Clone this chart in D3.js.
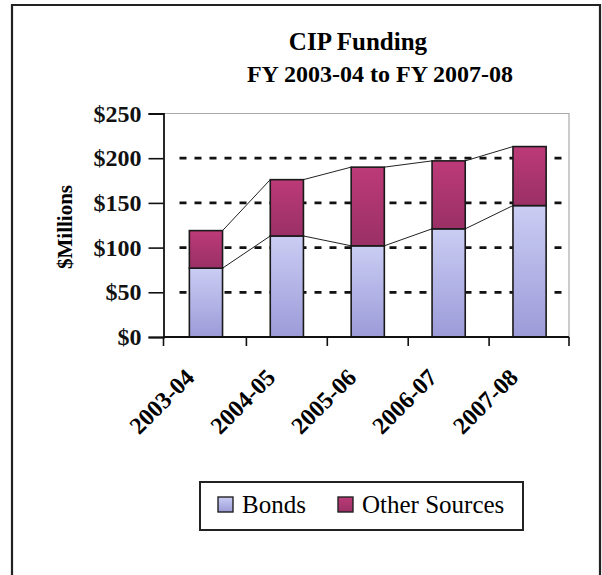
<!DOCTYPE html>
<html>
<head>
<meta charset="utf-8">
<script src="https://cdn.jsdelivr.net/npm/d3@7"></script>
<style>
  body { margin: 0; background: #fff; }
  svg { display: block; font-family: "Liberation Serif", "Times New Roman", serif; }
</style>
</head>
<body>
<div id="chart"></div>
<script>
// values, $ millions
const years = ['2003-04', '2004-05', '2005-06', '2006-07', '2007-08'];
const bonds = [77, 113, 102, 121, 147];
const otherSources = [42, 63, 88, 76, 66];
const yTicks = [0, 50, 100, 150, 200, 250];
const seriesNames = ['Bonds', 'Other Sources'];

const width = 602;
const height = 575;
const plot = {left: 163.5, right: 569, top: 113.5, bottom: 337};

const svg = d3.select('#chart')
  .append('svg')
  .attr('width', width)
  .attr('height', height);

// gradients for the two series
const defs = svg.append('defs');
const grads = [
  {id: 'gBonds', top: '#cacdf3', bottom: '#9c9bd9'},
  {id: 'gOther', top: '#bc3a78', bottom: '#9a3066'}
];
grads.forEach(g => {
  const lg = defs.append('linearGradient')
    .attr('id', g.id)
    .attr('x1', 0).attr('y1', 0).attr('x2', 0).attr('y2', 1);
  lg.append('stop').attr('offset', '0%').attr('stop-color', g.top);
  lg.append('stop').attr('offset', '100%').attr('stop-color', g.bottom);
});

// outer frame (no bottom edge, it runs off the page)
svg.append('path')
  .attr('d', `M12,${height} L12,5 L600,5 L600,${height}`)
  .attr('fill', 'none')
  .attr('stroke', '#222')
  .attr('stroke-width', 2.2);

// title
svg.append('text')
  .attr('x', 358).attr('y', 50)
  .attr('text-anchor', 'middle')
  .style('font-size', '25px').style('font-weight', 'bold')
  .text('CIP Funding');
svg.append('text')
  .attr('x', 380).attr('y', 82)
  .attr('text-anchor', 'middle')
  .style('font-size', '24px').style('font-weight', 'bold')
  .text('FY 2003-04 to FY 2007-08');

const x = d3.scaleBand()
  .domain(years)
  .range([plot.left + 2, plot.right + 1])
  .paddingInner(0.59)
  .paddingOuter(0.295);
const y = d3.scaleLinear()
  .domain([0, 250])
  .range([plot.bottom, plot.top]);

// plot area border (top, right)
svg.append('path')
  .attr('d', `M${plot.left},${plot.top} L${plot.right},${plot.top} L${plot.right},${plot.bottom}`)
  .attr('fill', 'none')
  .attr('stroke', '#aaa')
  .attr('stroke-width', 1.2);

// dotted gridlines
svg.append('g')
  .selectAll('line')
  .data(yTicks.filter(d => d > 0 && d < 250))
  .enter().append('line')
  .attr('x1', plot.left + 16)
  .attr('x2', plot.right)
  .attr('y1', d => y(d))
  .attr('y2', d => y(d))
  .attr('stroke', '#111')
  .attr('stroke-width', 2.8)
  .attr('stroke-dasharray', '7,8');

// stacked data
const rows = years.map((yr, i) => ({year: yr, bonds: bonds[i], other: otherSources[i]}));
const stack = d3.stack().keys(['bonds', 'other'])(rows);

// series lines between bar tops
stack.forEach(layer => {
  for (let i = 0; i < layer.length - 1; i++) {
    svg.append('line')
      .attr('x1', x(years[i]) + x.bandwidth())
      .attr('y1', y(layer[i][1]))
      .attr('x2', x(years[i + 1]))
      .attr('y2', y(layer[i + 1][1]))
      .attr('stroke', '#222')
      .attr('stroke-width', 1);
  }
});

// bars
svg.append('g')
  .selectAll('g')
  .data(stack)
  .enter().append('g')
  .attr('fill', (d, i) => `url(#${grads[i].id})`)
  .selectAll('rect')
  .data(d => d)
  .enter().append('rect')
  .attr('x', d => x(d.data.year))
  .attr('y', d => y(d[1]))
  .attr('width', x.bandwidth())
  .attr('height', d => y(d[0]) - y(d[1]))
  .attr('stroke', '#1a1a1a')
  .attr('stroke-width', 1.6);

// y axis
const yAxis = svg.append('g')
  .attr('transform', `translate(${plot.left},0)`)
  .call(d3.axisLeft(y).tickValues(yTicks).tickSize(15).tickPadding(7).tickFormat(d => `$${d}`));
yAxis.select('.domain').attr('stroke', '#111').attr('stroke-width', 1.8);
yAxis.selectAll('.tick line').attr('stroke', '#111').attr('stroke-width', 1.6);
yAxis.selectAll('text')
  .attr('fill', '#111')
  .style('font-family', '"Liberation Serif", serif')
  .style('font-size', '24px')
  .style('font-weight', 'bold');

// y axis title
svg.append('text')
  .attr('transform', 'translate(72,227) rotate(-90)')
  .attr('text-anchor', 'middle')
  .style('font-size', '21px').style('font-weight', 'bold')
  .text('$Millions');

// x axis
svg.append('line')
  .attr('x1', plot.left).attr('x2', plot.right)
  .attr('y1', plot.bottom).attr('y2', plot.bottom)
  .attr('stroke', '#111').attr('stroke-width', 1.8);
const boundaries = years.map(d => x(d) - x.step() * x.paddingInner() / 2).concat([plot.right]);
boundaries[0] = plot.left;
svg.append('g')
  .selectAll('line')
  .data(boundaries)
  .enter().append('line')
  .attr('x1', d => d).attr('x2', d => d)
  .attr('y1', plot.bottom).attr('y2', plot.bottom + 9)
  .attr('stroke', '#111').attr('stroke-width', 1.6);

svg.append('g')
  .selectAll('text')
  .data(years)
  .enter().append('text')
  .attr('transform', d => `translate(${x(d) + x.bandwidth() / 2 - 22},367) rotate(-45)`)
  .attr('text-anchor', 'end')
  .attr('dy', '0.7em')
  .style('font-size', '24px').style('font-weight', 'bold')
  .text(d => d);

// legend
const legend = svg.append('g');
legend.append('rect')
  .attr('x', 200).attr('y', 482)
  .attr('width', 323).attr('height', 48)
  .attr('fill', '#fff')
  .attr('stroke', '#222')
  .attr('stroke-width', 2);
const legendX = [218, 338];
seriesNames.forEach((name, i) => {
  legend.append('rect')
    .attr('x', legendX[i]).attr('y', 497)
    .attr('width', 15).attr('height', 15)
    .attr('fill', `url(#${grads[i].id})`)
    .attr('stroke', '#222')
    .attr('stroke-width', 1.4);
  legend.append('text')
    .attr('x', legendX[i] + 24).attr('y', 513)
    .style('font-size', '25px')
    .text(name);
});
</script>
</body>
</html>
